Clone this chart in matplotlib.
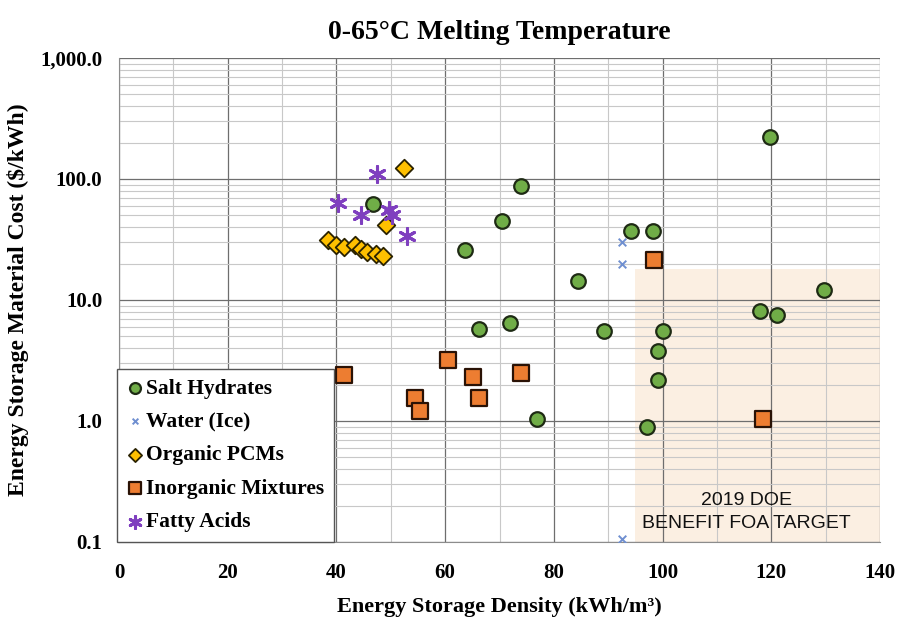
import matplotlib
matplotlib.use("Agg")
import matplotlib.pyplot as plt
from matplotlib.patches import Rectangle
from matplotlib.ticker import FixedLocator, FixedFormatter, MultipleLocator, LogLocator, NullFormatter

# data (x = kWh/m3, y = $/kWh)
salt_x = [119.8, 74.0, 70.4, 46.7, 63.6, 94.1, 98.3, 84.4, 66.3, 71.9, 89.2, 100.0,
          99.2, 99.2, 76.9, 97.1, 129.7, 118.0, 121.0]
salt_y = [221, 87, 45, 62, 25.9, 37, 37, 14.4, 5.8, 6.5, 5.55, 5.55,
          3.8, 2.17, 1.04, 0.89, 12.0, 8.1, 7.5]

water_x = [92.5, 92.5, 92.5]
water_y = [30, 19.7, 0.105]

organic_x = [52.4, 49.2, 38.4, 39.9, 41.4, 43.4, 44.5, 45.6, 47.3, 48.6]
organic_y = [123, 41.9, 31.5, 28.5, 27.6, 28.3, 26.2, 24.8, 23.9, 22.9]

inorg_x = [98.4, 118.5, 41.4, 60.5, 65.2, 74.0, 54.4, 55.3, 66.2]
inorg_y = [21.3, 1.03, 2.39, 3.2, 2.32, 2.48, 1.56, 1.22, 1.56]

fatty_x = [47.5, 40.2, 44.6, 49.7, 50.3, 53.0]
fatty_y = [111, 63, 50.7, 55, 50, 34]

# DOE target box
target_x0, target_x1 = 95, 140
target_y0, target_y1 = 0.1, 18

serif = "Liberation Serif"

fig = plt.figure(figsize=(9.04, 6.27), dpi=100)
ax = fig.add_axes([0.1316, 0.1356, 0.8419, 0.7719])

ax.set_yscale("log")
ax.set_xlim(0, 140)
ax.set_ylim(0.1, 1000)

ax.add_patch(Rectangle((target_x0, target_y0), target_x1 - target_x0, target_y1 - target_y0,
                       facecolor="#FBEFE2", edgecolor="none", zorder=0))

# grid
ax.xaxis.set_major_locator(MultipleLocator(20))
ax.xaxis.set_minor_locator(MultipleLocator(10))
ax.yaxis.set_major_locator(FixedLocator([0.1, 1, 10, 100, 1000]))
ax.yaxis.set_major_formatter(FixedFormatter(["0.1", "1.0", "10.0", "100.0", "1,000.0"]))
ax.yaxis.set_minor_locator(LogLocator(base=10, subs=range(2, 10)))
ax.yaxis.set_minor_formatter(NullFormatter())
ax.grid(True, which="major", color="#6E6E6E", linewidth=0.9, zorder=1)
ax.grid(True, which="minor", color="#C8C8C8", linewidth=0.8, zorder=1)
ax.set_axisbelow(True)
ax.tick_params(which="both", length=0)
ax.tick_params(axis="x", pad=15)
ax.tick_params(axis="y", pad=12)
for side in ["top", "right"]:
    ax.spines[side].set_visible(False)
ax.spines["left"].set_color("#8C8C8C")
ax.spines["bottom"].set_color("#8C8C8C")

ax.scatter(salt_x, salt_y, s=110, marker="o", facecolor="#70AD47", edgecolor="#1E2A14",
           linewidth=1.6, label="Salt Hydrates", zorder=4)
ax.scatter(water_x, water_y, s=30, marker="x", color="#6F8FD0", linewidth=1.4,
           label="Water (Ice)", zorder=4)
ax.scatter(organic_x, organic_y, s=80, marker="D", facecolor="#FFC000", edgecolor="#2A2200",
           linewidth=1.3, label="Organic PCMs", zorder=4)
ax.scatter(inorg_x, inorg_y, s=130, marker="s", facecolor="#ED7D31", edgecolor="#2A1205",
           linewidth=1.6, label="Inorganic Mixtures", zorder=4)
ax.scatter(fatty_x, fatty_y, s=130, marker=(6, 2, 0), color="#7F3FBF", linewidth=2.2,
           label="Fatty Acids", zorder=4)

for lbl in ax.get_xticklabels() + ax.get_yticklabels():
    lbl.set_fontfamily(serif)
    lbl.set_fontweight("bold")
    lbl.set_fontsize(15)

ax.set_title("0-65°C Melting Temperature", fontfamily=serif, fontweight="bold",
             fontsize=20, pad=14)
ax.set_xlabel("Energy Storage Density (kWh/m³)", fontfamily=serif,
              fontweight="bold", fontsize=16, labelpad=10)
ax.set_ylabel("Energy Storage Material Cost ($/kWh)", fontfamily=serif,
              fontweight="bold", fontsize=17, labelpad=8)

ax.text(115.5, 0.177, "2019 DOE\nBENEFIT FOA TARGET", ha="center", va="center",
        fontfamily="Liberation Sans", fontsize=14, color="#111111",
        linespacing=1.45, zorder=5)

leg = ax.legend(loc="lower left", bbox_to_anchor=(-0.003, 0.0), frameon=True,
                fancybox=False, handletextpad=0.1, handlelength=0.8,
                markerscale=0.75, borderpad=0.45, labelspacing=0.62,
                borderaxespad=0.0,
                prop={"family": serif, "weight": "bold", "size": 15.5})
leg.get_frame().set_edgecolor("#555555")
leg.get_frame().set_linewidth(1.0)
leg.get_frame().set_alpha(1.0)
leg.set_zorder(6)

fig.savefig("out.png", dpi=100)
